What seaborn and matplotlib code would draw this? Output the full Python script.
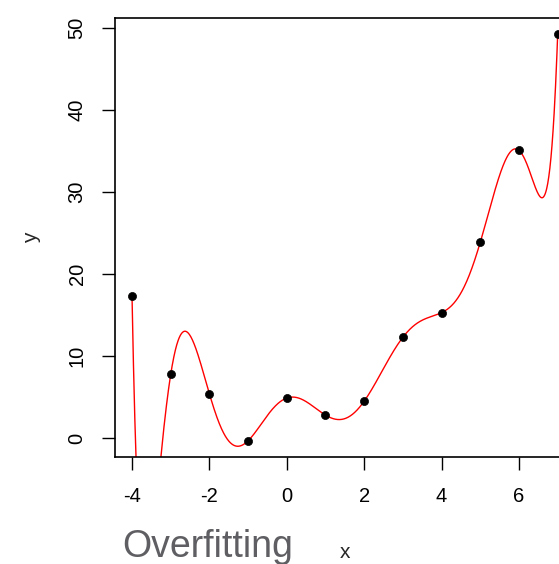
import numpy as np
import pandas as pd
import matplotlib
matplotlib.use("Agg")
import matplotlib.pyplot as plt
import seaborn as sns

# data
x_vals = [-4, -3, -2, -1, 0, 1, 2, 3, 4, 5, 6, 7]
y_vals = [17.35, 7.77, 5.4, -0.33, 4.88, 2.8, 4.5, 12.3, 15.3, 23.9, 35.1, 49.27]
x_ticks = [-4, -2, 0, 2, 4, 6]
y_ticks = [0, 10, 20, 30, 40, 50]
title_text = "Overfitting"

sns.set_theme(style="ticks")
plt.rcParams['font.family'] = ['Liberation Sans', 'DejaVu Sans']

df = pd.DataFrame({"x": x_vals, "y": y_vals})

# overfitted polynomial (degree n-1) through the points
coef = np.polyfit(df["x"], df["y"], len(df) - 1)
xs = np.linspace(min(x_vals), max(x_vals), 1200)
curve = pd.DataFrame({"x": xs, "y": np.polyval(coef, xs)})

fig = plt.figure(figsize=(5.59, 5.64), dpi=100)
ax = fig.add_axes([0.2057, 0.1897, 0.8224, 0.7784])

sns.lineplot(data=curve, x="x", y="y", ax=ax, color="red", linewidth=1.0,
             sort=False, estimator=None)
sns.scatterplot(data=df, x="x", y="y", ax=ax, color="black", s=34,
                edgecolor="black", linewidth=0.5, zorder=3)

xr = max(x_vals) - min(x_vals)
yr = max(y_vals) - min(y_vals)
ax.set_xlim(min(x_vals) - 0.04 * xr, max(x_vals) + 0.04 * xr)
ax.set_ylim(min(y_vals) - 0.04 * yr, max(y_vals) + 0.04 * yr)

ax.set_xticks(x_ticks)
ax.set_yticks(y_ticks)
ax.set_xticklabels([str(t) for t in x_ticks])
ax.set_yticklabels([str(t) for t in y_ticks], rotation=90, va="center")
ax.tick_params(axis="both", direction="out", length=9.4, width=1.0,
               colors="black", labelsize=14.5)
ax.tick_params(axis="x", pad=12)
ax.tick_params(axis="y", pad=11)

for sp in ax.spines.values():
    sp.set_visible(True)
    sp.set_color("black")
    sp.set_linewidth(1.2)

ax.set_xlabel("x", fontsize=15, va="center")
ax.set_ylabel("y", fontsize=15, va="center")
ax.xaxis.set_label_coords(0.5, (564 - 552 - 107) / 439)
ax.yaxis.set_label_coords((32 - 115) / 459.7, 0.5)

fig.text(122 / 559, (564 - 557) / 564, title_text, fontsize=27,
         color="#5f5f63", ha="left", va="baseline")

fig.savefig("out.png", dpi=100)
